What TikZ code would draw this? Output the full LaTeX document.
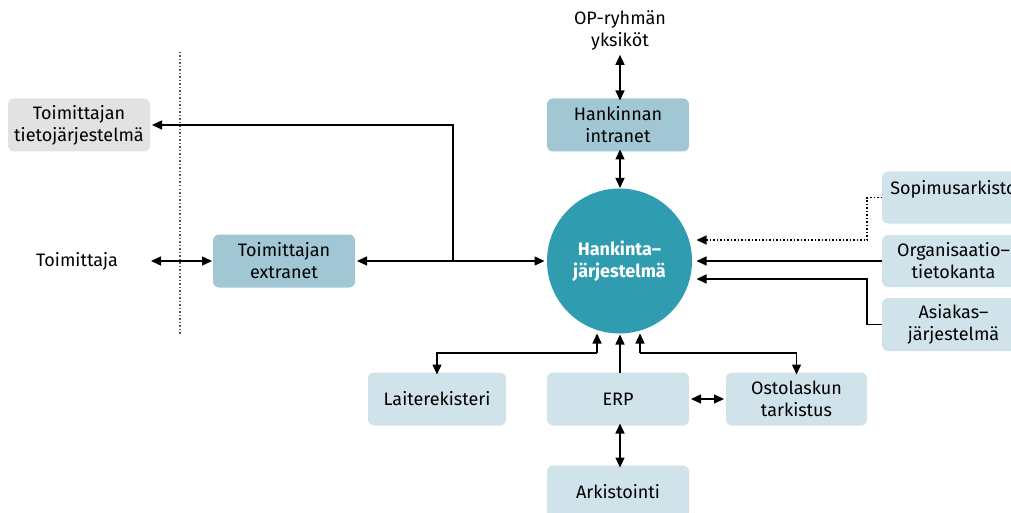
\documentclass[tikz,border=0pt]{standalone}
\usepackage{fontspec}
\setmainfont{Fira Sans}
\usetikzlibrary{arrows.meta,calc}
\definecolor{midblue}{HTML}{A0C7D3}
\definecolor{lightblue}{HTML}{D0E3EA}
\definecolor{greybox}{HTML}{E2E2E2}
\definecolor{circ}{HTML}{309CB0}
\begin{document}
\begin{tikzpicture}[x=1pt,y=-1pt,
  every node/.style={font=\fontsize{18}{22}\selectfont, align=center, inner sep=0pt, outer sep=0pt},
  box/.style={rounded corners=6pt, minimum width=142pt, minimum height=53pt},
  midbox/.style={box, fill=midblue},
  lightbox/.style={box, fill=lightblue},
  greybx/.style={box, fill=greybox},
  tip/.tip={Triangle[length=10pt,width=9pt]},
  conn/.style={line width=1.4pt, -tip},
  bconn/.style={line width=1.4pt, tip-tip},
  rconn/.style={line width=1.4pt, tip-},
  dots/.style={dash pattern=on 1.5pt off 2pt}
]
\useasboundingbox (0,0) rectangle (1011,513);
\clip (0,0) rectangle (1011,513);
% dotted separator
\draw[line width=1.4pt, dots, gray!70!black] (180,52) -- (180,335);
% nodes
\node[greybx] (tj) at (79,125) {Toimittajan\\tietojärjestelmä};
\node[minimum width=146pt] (toim) at (77,261) {Toimittaja};
\node[midbox] (ext) at (284,261) {Toimittajan\\extranet};
\node[midbox] (intra) at (618,125) {Hankinnan\\intranet};
\node[inner sep=4pt] (op) at (620,31) {OP-ryhmän\\yksiköt};
\node[circle, fill=circ, minimum size=145pt, text=white, font=\fontsize{18}{22}\selectfont\bfseries] (hj) at (619.5,261) {Hankinta–\\järjestelmä};
\node[lightbox, minimum width=143pt, minimum height=52pt] (sop) at (953.5,197.5) {Sopimusarkisto\\[-2pt]\mbox{}};
\node[lightbox, minimum width=143pt, minimum height=52pt] (org) at (953.5,261) {Organisaatio–\\tietokanta};
\node[lightbox, minimum width=143pt, minimum height=53pt] (asi) at (953.5,324.5) {Asiakas–\\järjestelmä};
\node[lightbox, minimum width=138pt] (lai) at (437,399) {Laiterekisteri};
\node[lightbox] (erp) at (618,399) {ERP};
\node[lightbox, minimum width=141pt] (ost) at (796.5,399) {Ostolaskun\\tarkistus};
\node[lightbox] (ark) at (618,492) {Arkistointi};
% helper coordinates
\coordinate (J) at (453,261);
\coordinate (V) at (620,0);
% connectors left
\draw[bconn] ([xshift=1pt]toim.east) -- ([xshift=-1pt]ext.west);
\draw[bconn] ([xshift=2pt]ext.east) -- ($(hj.center)+(-75,0)$);
\draw[conn] (J) |- ([xshift=2pt]tj.east);
% top
\draw[bconn] (V |- op.south) -- ([yshift=-2pt]V |- intra.north);
\draw[bconn] ([yshift=2pt]V |- intra.south) -- ($(hj.center)+(0.5,-73)$);
% right
\draw[conn, dots] (sop.west) -| ($(sop.west)+(-15,0)$) |- ($(hj.center)+(77,-21)$);
\draw[conn] (org.west) -- ($(hj.center)+(77,0)$);
\draw[conn] (asi.west) -| ($(asi.west)+(-15,0)$) |- ($(hj.center)+(77,18)$);
% bottom
\draw[rconn] ([yshift=-2pt]lai.north) |- (597,353) coordinate (L1);
\draw[conn] (L1) -- ($(hj.center)+(-22.5,72.5)$);
\draw[conn] (V |- erp.north) -- ($(hj.center)+(0.5,73.5)$);
\draw[rconn] ([yshift=-2pt]ost.north) |- (640,353) coordinate (R1);
\draw[conn] (R1) -- ($(hj.center)+(20.5,72.5)$);
\draw[bconn] ([xshift=2pt]erp.east) -- ([xshift=-2pt]ost.west);
\draw[bconn] ([yshift=2pt]V |- erp.south) -- ([yshift=-2pt]V |- ark.north);
\end{tikzpicture}
\end{document}
